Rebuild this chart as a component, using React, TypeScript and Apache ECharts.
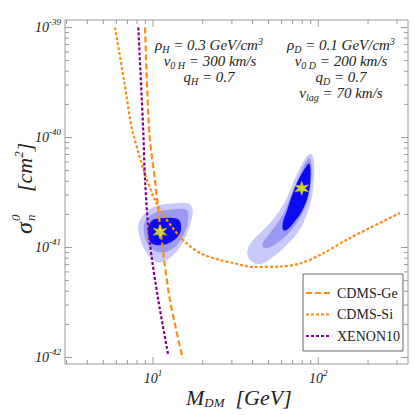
import React, { useEffect, useRef } from 'react';
import * as echarts from 'echarts';

// ---- data (M in GeV, sigma in cm^2) ----
const cdmsGe: [number, number][] = [
  [8.95, 1e-39], [9.5, 1.1e-40], [10.28, 4.11e-41], [11.29, 1.17e-41], [12.67, 3.33e-42], [15.12, 9.83e-43],
];
const cdmsSi: [number, number][] = [
  [5.89, 1e-39], [6.68, 3.33e-40], [7.57, 1.1e-40], [10.28, 2.7e-41], [14.57, 1.25e-41], [19.25, 8.91e-42],
  [25.4, 7.7e-42], [30.5, 7.23e-42], [40.3, 6.65e-42], [58.7, 6.72e-42], [77.5, 7.15e-42], [102.4, 8.55e-42],
  [155.5, 1.22e-41], [312, 2.06e-41],
];
const xenon10: [number, number][] = [
  [8.15, 1e-39], [8.74, 1.1e-40], [8.95, 4.11e-41], [9.52, 1.17e-41], [10.77, 3.33e-42], [12.37, 1.05e-42],
];

const leftOuter: [number, number][] = [
  [11.02, 2.435e-41], [13.91, 2.52e-41], [16.35, 2.52e-41], [17.39, 2.19e-41], [16.74, 1.6e-41], [15.25, 1.13e-41],
  [13.27, 8.55e-42], [11.54, 7.43e-42], [10.28, 7.43e-42], [9.16, 8.86e-42], [8.34, 1.21e-41], [8.15, 1.6e-41],
  [8.74, 1.975e-41], [9.59, 2.24e-41],
];
const leftMiddle: [number, number][] = [
  [11.29, 2.15e-41], [13.91, 2.24e-41], [15.99, 2.19e-41], [16.35, 1.84e-41], [15.61, 1.39e-41], [13.91, 1.054e-41],
  [12.1, 9.16e-42], [10.53, 9.16e-42], [9.37, 1.054e-41], [8.82, 1.39e-41], [8.95, 1.72e-41], [9.82, 2.0e-41],
];
const leftInner: [number, number][] = [
  [10.77, 1.84e-41], [13.91, 1.84e-41], [14.71, 1.66e-41], [14.57, 1.35e-41], [12.97, 1.13e-41], [11.29, 1.054e-41],
  [9.82, 1.09e-41], [9.37, 1.3e-41], [9.37, 1.55e-41], [9.96, 1.78e-41],
];
const rightOuter: [number, number][] = [
  [91.2, 7.04e-41], [94.2, 6.03e-41], [94.2, 4.26e-41], [91.2, 2.8e-41], [85.1, 1.975e-41], [75.7, 1.39e-41],
  [64.4, 1.054e-41], [53.4, 8.25e-42], [44.4, 7.04e-42], [38.6, 7.7e-42], [37.2, 9.16e-42], [39.5, 1.13e-41],
  [46.5, 1.44e-41], [56.0, 1.975e-41], [64.4, 2.8e-41], [72.3, 4.26e-41], [81.2, 6.03e-41], [87.0, 6.93e-41],
];
const rightMiddle: [number, number][] = [
  [89.1, 6.55e-41], [91.2, 4.56e-41], [87.0, 2.8e-41], [79.4, 1.975e-41], [67.4, 1.39e-41], [56.0, 1.09e-41],
  [47.6, 9.83e-42], [46.1, 1.09e-41], [51.0, 1.35e-41], [60.1, 1.9e-41], [67.4, 2.8e-41], [75.7, 4.26e-41],
  [84.3, 6.03e-41],
];
const rightInner: [number, number][] = [
  [88.2, 5.83e-41], [89.9, 4.56e-41], [87.0, 3.0e-41], [79.4, 2.12e-41], [70.6, 1.66e-41], [64.4, 1.44e-41],
  [61.4, 1.44e-41], [60.9, 1.66e-41], [64.4, 2.12e-41], [70.6, 3.22e-41], [77.5, 4.4e-41], [84.3, 5.43e-41],
];
const bestFits: [number, number][] = [[11.02, 1.39e-41], [79.4, 3.45e-41]];

const xTicks = [3, 4, 5, 6, 7, 8, 9, 10, 20, 30, 40, 50, 60, 70, 80, 90, 100, 200, 300];
const yDecades = [1e-42, 1e-41, 1e-40];
const yMantissas = [1, 2, 3, 4, 5, 6, 7, 8, 9];

const X_MIN = 2.935;
const X_MAX = 349;
const Y_MIN = 8.73e-43;
const Y_MAX = 1.17e-39;

// sigma is plotted in units of 1e-42 cm^2 (to keep the log scale numerically safe)
const SCALE = 1e42;
const EXP_SHIFT = -42;

const SERIF = '"Liberation Serif", "Times New Roman", serif';
const INK = '#222';
const FRAME = '#9a9a9a';
const ORANGE = '#ff8c1a';
const PURPLE = '#800080';

const sc = (pts: [number, number][]) => pts.map(([m, s]) => [m, s * SCALE]);

const isPow10 = (v: number) => {
  const e = Math.log10(v);
  return Math.abs(e - Math.round(e)) < 1e-6;
};

const labelRich = {
  b: { fontFamily: SERIF, fontStyle: 'italic', fontSize: 14, lineHeight: 20, color: INK },
  s: { fontFamily: SERIF, fontStyle: 'italic', fontSize: 9, lineHeight: 11, verticalAlign: 'top', color: INK },
};

const fmt = (shift: number) => (v: number) => {
  const e = Math.log10(v);
  const r = Math.round(e);
  if (Math.abs(e - r) > 1e-6) return '';
  return `{b|10}{s|${r + shift}}`;
};

const annoRich = {
  t: { fontFamily: SERIF, fontStyle: 'italic', fontSize: 15, lineHeight: 18, fill: INK, color: INK },
  sub: { fontFamily: SERIF, fontStyle: 'italic', fontSize: 10, lineHeight: 10, verticalAlign: 'bottom', fill: INK, color: INK },
  sup: { fontFamily: SERIF, fontStyle: 'italic', fontSize: 10, lineHeight: 10, verticalAlign: 'top', fill: INK, color: INK },
};

const anno = (text: string, x: number, y: number) => ({
  type: 'text',
  x,
  y,
  silent: true,
  style: { text, align: 'center', verticalAlign: 'middle', rich: annoRich, fill: INK },
});

const starPath =
  'path://M10 0L12 6.54L18.66 5L14 10L18.66 15L12 13.46L10 20L8 13.46L1.34 15L6 10L1.34 5L8 6.54Z';

const polySeries = (pts: [number, number][], color: string, z: number) => {
  const data = sc(pts);
  return {
    type: 'custom',
    coordinateSystem: 'cartesian2d',
    silent: true,
    z,
    data: [data[0]],
    renderItem: (_params: any, api: any) => ({
      type: 'polygon',
      shape: { points: data.map((p) => api.coord(p)), smooth: 0.35 },
      style: { fill: color, stroke: null },
    }),
  };
};

export default function App() {
  const ref = useRef<HTMLDivElement>(null);
  useEffect(() => {
    if (!ref.current) return;
    const chart = echarts.init(ref.current, undefined, { renderer: 'svg' });

    const yTicks: number[] = [];
    yDecades.forEach((d) => yMantissas.forEach((m) => yTicks.push(m * d * SCALE)));
    yTicks.push(1e-39 * SCALE);

    const option: any = {
      animation: false,
      backgroundColor: '#fff',
      grid: { left: 65, right: 7, top: 20, bottom: 51, show: true, borderColor: FRAME, borderWidth: 1, backgroundColor: 'transparent' },
      xAxis: {
        type: 'log',
        min: X_MIN,
        max: X_MAX,
        axisLine: { show: false },
        axisTick: { show: false },
        splitLine: { show: false },
        axisLabel: { formatter: fmt(0), rich: labelRich, margin: 4, showMinLabel: false, showMaxLabel: false },
      },
      yAxis: {
        type: 'log',
        min: Y_MIN * SCALE,
        max: Y_MAX * SCALE,
        axisLine: { show: false },
        axisTick: { show: false },
        splitLine: { show: false },
        axisLabel: { formatter: fmt(EXP_SHIFT), rich: labelRich, margin: 4, showMinLabel: false, showMaxLabel: false },
      },
      legend: {
        orient: 'vertical',
        left: 303,
        top: 274,
        padding: [12, 3, 8, 2],
        itemWidth: 24,
        itemHeight: 12,
        itemGap: 7.5,
        backgroundColor: '#fff',
        borderColor: '#666',
        borderWidth: 1,
        borderRadius: 0,
        itemStyle: { opacity: 0 },
        data: ['CDMS-Ge', 'CDMS-Si', 'XENON10'],
        textStyle: { fontFamily: SERIF, fontSize: 14, color: INK, padding: [0, 0, 0, 2] },
      },
      graphic: [
        anno('{t|ρ}{sub|H}{t| = 0.3 GeV/cm}{sup|3}', 209, 45),
        anno('{t|v}{sub|0 H}{t| = 300 km/s}', 210, 61),
        anno('{t|q}{sub|H}{t| = 0.7}', 209, 77),
        anno('{t|ρ}{sub|D}{t| = 0.1 GeV/cm}{sup|3}', 341, 45),
        anno('{t|v}{sub|0 D}{t| = 200 km/s}', 341, 61),
        anno('{t|q}{sub|D}{t| = 0.7}', 341, 77),
        anno('{t|v}{sub|lag}{t| = 70 km/s}', 341, 93),
        {
          type: 'text',
          x: 186,
          y: 397,
          silent: true,
          style: {
            text: '{m|M}{sub|DM}{m|  [GeV]}',
            align: 'left',
            verticalAlign: 'middle',
            rich: {
              m: { fontFamily: SERIF, fontStyle: 'italic', fontSize: 22, lineHeight: 24, fill: INK },
              sub: { fontFamily: SERIF, fontStyle: 'italic', fontSize: 13, lineHeight: 12, verticalAlign: 'bottom', fill: INK },
            },
          },
        },
        {
          type: 'group',
          x: 24,
          y: 234,
          rotation: Math.PI / 2,
          silent: true,
          children: [
            { type: 'text', x: 0, y: 0, style: { text: 'σ', font: `italic 24px ${SERIF}`, fill: INK, align: 'left', verticalAlign: 'middle' } },
            { type: 'text', x: 13, y: -9, style: { text: '0', font: `italic 13px ${SERIF}`, fill: INK, align: 'left', verticalAlign: 'middle' } },
            { type: 'text', x: 13, y: 6, style: { text: 'n', font: `italic 13px ${SERIF}`, fill: INK, align: 'left', verticalAlign: 'middle' } },
            {
              type: 'text',
              x: 42,
              y: 0,
              style: {
                text: '{m|[cm}{sup|2}{m|]}',
                align: 'left',
                verticalAlign: 'middle',
                rich: {
                  m: { fontFamily: SERIF, fontStyle: 'italic', fontSize: 22, lineHeight: 24, fill: INK },
                  sup: { fontFamily: SERIF, fontStyle: 'italic', fontSize: 13, lineHeight: 12, verticalAlign: 'top', fill: INK },
                },
              },
            },
          ],
        },
      ],
      series: [
        polySeries(leftOuter, '#c9c9fa', 1),
        polySeries(leftMiddle, '#9a9af2', 1),
        polySeries(leftInner, '#0b0bf2', 1),
        polySeries(rightOuter, '#c9c9fa', 1),
        polySeries(rightMiddle, '#9a9af2', 1),
        polySeries(rightInner, '#0b0bf2', 1),
        {
          name: 'CDMS-Ge',
          type: 'line',
          data: sc(cdmsGe),
          symbol: 'none',
          smooth: 0.3,
          z: 4,
          lineStyle: { color: ORANGE, width: 2.2, type: [6, 3] },
          itemStyle: { color: ORANGE },
        },
        {
          name: 'CDMS-Si',
          type: 'line',
          data: sc(cdmsSi),
          symbol: 'none',
          smooth: 0.3,
          z: 4,
          lineStyle: { color: ORANGE, width: 2.2, type: [3, 2] },
          itemStyle: { color: ORANGE },
        },
        {
          name: 'XENON10',
          type: 'line',
          data: sc(xenon10),
          symbol: 'none',
          smooth: 0.3,
          z: 4,
          lineStyle: { color: PURPLE, width: 2.2, type: [3, 2] },
          itemStyle: { color: PURPLE },
        },
        {
          type: 'scatter',
          data: sc(bestFits),
          symbol: starPath,
          symbolSize: 14,
          z: 6,
          silent: true,
          itemStyle: { color: '#ffff00', borderColor: '#e8e800', borderWidth: 0.5 },
        },
        {
          type: 'custom',
          silent: true,
          z: 7,
          data: xTicks.map((v) => [v, 100]),
          renderItem: (params: any, api: any) => {
            const v = api.value(0);
            const cs = params.coordSys;
            const p = api.coord([v, 100]);
            const len = isPow10(v) ? 7 : 4;
            const st = { stroke: FRAME, lineWidth: 1 };
            const b = cs.y + cs.height;
            return {
              type: 'group',
              children: [
                { type: 'line', shape: { x1: p[0], y1: b, x2: p[0], y2: b - len }, style: st },
                { type: 'line', shape: { x1: p[0], y1: cs.y, x2: p[0], y2: cs.y + len }, style: st },
              ],
            };
          },
        },
        {
          type: 'custom',
          silent: true,
          z: 7,
          data: yTicks.map((v) => [10, v]),
          renderItem: (params: any, api: any) => {
            const v = api.value(1);
            const cs = params.coordSys;
            const p = api.coord([10, v]);
            const len = isPow10(v) ? 7 : 4;
            const st = { stroke: FRAME, lineWidth: 1 };
            const r = cs.x + cs.width;
            return {
              type: 'group',
              children: [
                { type: 'line', shape: { x1: cs.x, y1: p[1], x2: cs.x + len, y2: p[1] }, style: st },
                { type: 'line', shape: { x1: r, y1: p[1], x2: r - len, y2: p[1] }, style: st },
              ],
            };
          },
        },
      ],
    };
    chart.setOption(option);
    return () => chart.dispose();
  }, []);
  return <div ref={ref} style={{ width: 415, height: 415, position: 'absolute', left: 0, top: 0 }} />;
}
